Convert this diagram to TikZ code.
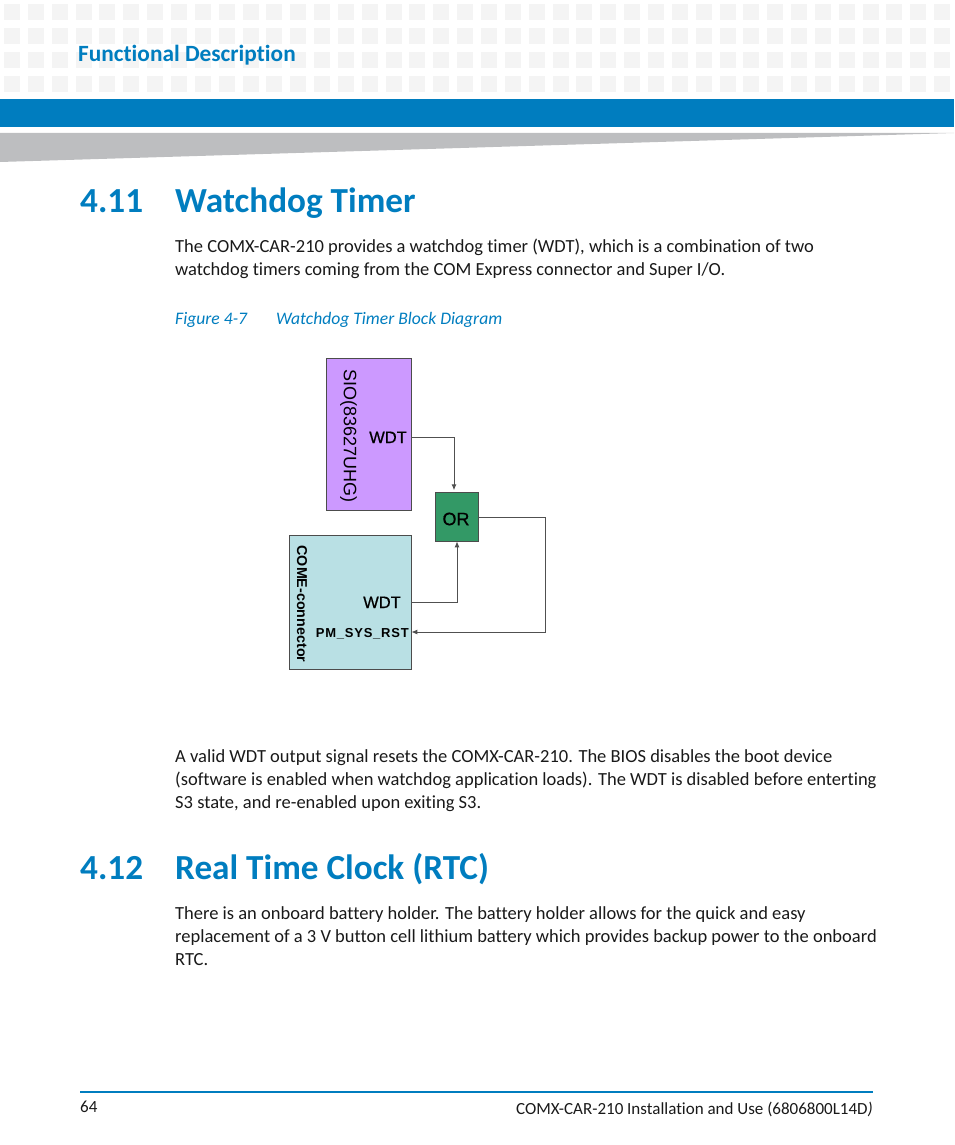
\documentclass[tikz,border=0pt]{standalone}
\usepackage{fontspec}
\setmainfont[Ligatures=NoCommon]{Carlito}
\newfontfamily\diagramfont{Liberation Sans}
\newfontfamily\diagramthick[FakeBold=0.6]{Liberation Sans}
\newfontfamily\diagramwide[LetterSpace=6]{Liberation Sans}
\usetikzlibrary{arrows.meta}
\definecolor{pageblue}{HTML}{007DBF}
\definecolor{bandgrey}{HTML}{BDBEC0}
\definecolor{tilegrey}{HTML}{F4F4F4}
\definecolor{siopurple}{HTML}{CC99FF}
\definecolor{comecyan}{HTML}{B9E0E4}
\definecolor{orgreen}{HTML}{339966}
\definecolor{wiregrey}{HTML}{505050}
\tikzset{
	heading/.style={anchor=base west,inner sep=0,text=pageblue,font=\fontsize{35.2}{35.2}\selectfont\bfseries},
	bodytext/.style={anchor=north west,inner sep=0,align=left,text=black!90,font=\fontsize{18.5}{23}\selectfont},
	captiontext/.style={anchor=base west,inner sep=0,text=pageblue,font=\fontsize{17.6}{23}\selectfont\itshape},
	footertext/.style={inner sep=0,text=black!90,font=\fontsize{17}{17}\selectfont},
	block/.style={draw=black!70,line width=1pt,inner sep=0,outer sep=0,anchor=north west},
	wire/.style={draw=wiregrey,line width=1pt,-{Latex[length=6pt,width=5pt]}},
	portlabel/.style={inner sep=0,anchor=base east,text=black,font=\diagramthick\fontsize{16.5}{16.5}\selectfont},
	sidelabel/.style={inner sep=0,rotate=-90,text=black}
}
\begin{document}
\begin{tikzpicture}[x=1pt,y=-1pt]
	\useasboundingbox (0,0) rectangle (954,1145);
	\foreach \col in {0,...,39}
		\foreach \row in {4,28,52,76}
			\fill[tilegrey] (4+23.85*\col,\row) rectangle +(16,16);
	\fill[pageblue] (0,99) rectangle (954,127);
	\fill[bandgrey] (0,133) -- (954,133) -- (0,162) -- cycle;
	\node[anchor=base west,inner sep=0,text=pageblue,font=\fontsize{23.3}{23.3}\selectfont\bfseries] (chapter) at (78,62) {Functional Description};
	\node[heading] (numwatchdog) at (80,212) {4.11};
	\node[heading] (titlewatchdog) at (175,212) {Watchdog Timer};
	\node[bodytext] (introwatchdog) at (175,239) {The COMX-CAR-210 provides a watchdog timer (WDT), which is a combination of two\\watchdog timers coming from the COM Express connector and Super I/O.};
	\node[captiontext] (caption) at (175,324) {Figure 4-7};
	\node[captiontext] (captionname) at (276,324) {Watchdog Timer Block Diagram};

	\node[block,fill=siopurple,minimum width=85.3pt,minimum height=152.4pt] (sio) at (326,358.3) {};
	\node[block,fill=comecyan,minimum width=121.8pt,minimum height=134pt] (come) at (289.5,535) {};
	\node[block,fill=orgreen,minimum width=42.6pt,minimum height=49pt] (orgate) at (435.7,492.3) {};
	\node[text=black,inner sep=0,font=\diagramthick\fontsize{18}{18}\selectfont] (orlabel) at (456,519) {OR};
	\node[sidelabel,font=\diagramfont\fontsize{18}{18}\selectfont] (siolabel) at (348.5,436) {SIO(83627UHG)};
	\node[sidelabel,font=\diagramfont\fontsize{14.3}{14.3}\selectfont\bfseries] (comelabel) at (302,604) {COME-connector};
	\node[portlabel] (siowdt) at (407,443) {WDT};
	\node[portlabel] (comewdt) at (401,608) {WDT};
	\node[portlabel,font=\diagramwide\fontsize{13}{13}\selectfont\bfseries] (pmrst) at (409,637) {PM\_SYS\_RST};
	\coordinate (siotap) at (sio.east |- 0,437);
	\coordinate (cometap) at (come.east |- 0,602);
	\coordinate (rsttap) at (come.east |- 0,632);
	\coordinate (orout) at (orgate.east |- 0,517);
	\draw[wire,shorten >=2pt] (siotap) -| ([xshift=-3pt]orgate.north);
	\draw[wire] (cometap) -| (orgate.south);
	\draw[wire] (orout) -- (545,517) |- (rsttap);

	\node[bodytext] (bodywatchdog) at (175,749) {A valid WDT output signal resets the COMX-CAR-210. The BIOS disables the boot device\\(software is enabled when watchdog application loads). The WDT is disabled before enterting\\S3 state, and re-enabled upon exiting S3.};
	\node[heading] (numrtc) at (80,879) {4.12};
	\node[heading] (titlertc) at (175,879) {Real Time Clock (RTC)};
	\node[bodytext] (bodyrtc) at (175,906) {There is an onboard battery holder. The battery holder allows for the quick and easy\\replacement of a 3 V button cell lithium battery which provides backup power to the onboard\\RTC.};

	\draw[pageblue,line width=1.5pt] (80,1092) -- (873,1092);
	\node[footertext,anchor=base west] (pagenum) at (80,1112) {64};
	\node[footertext,anchor=base east] (footer) at (873,1114) {COMX-CAR-210 Installation and Use (6806800L14D\textit{)}};
\end{tikzpicture}
\end{document}
